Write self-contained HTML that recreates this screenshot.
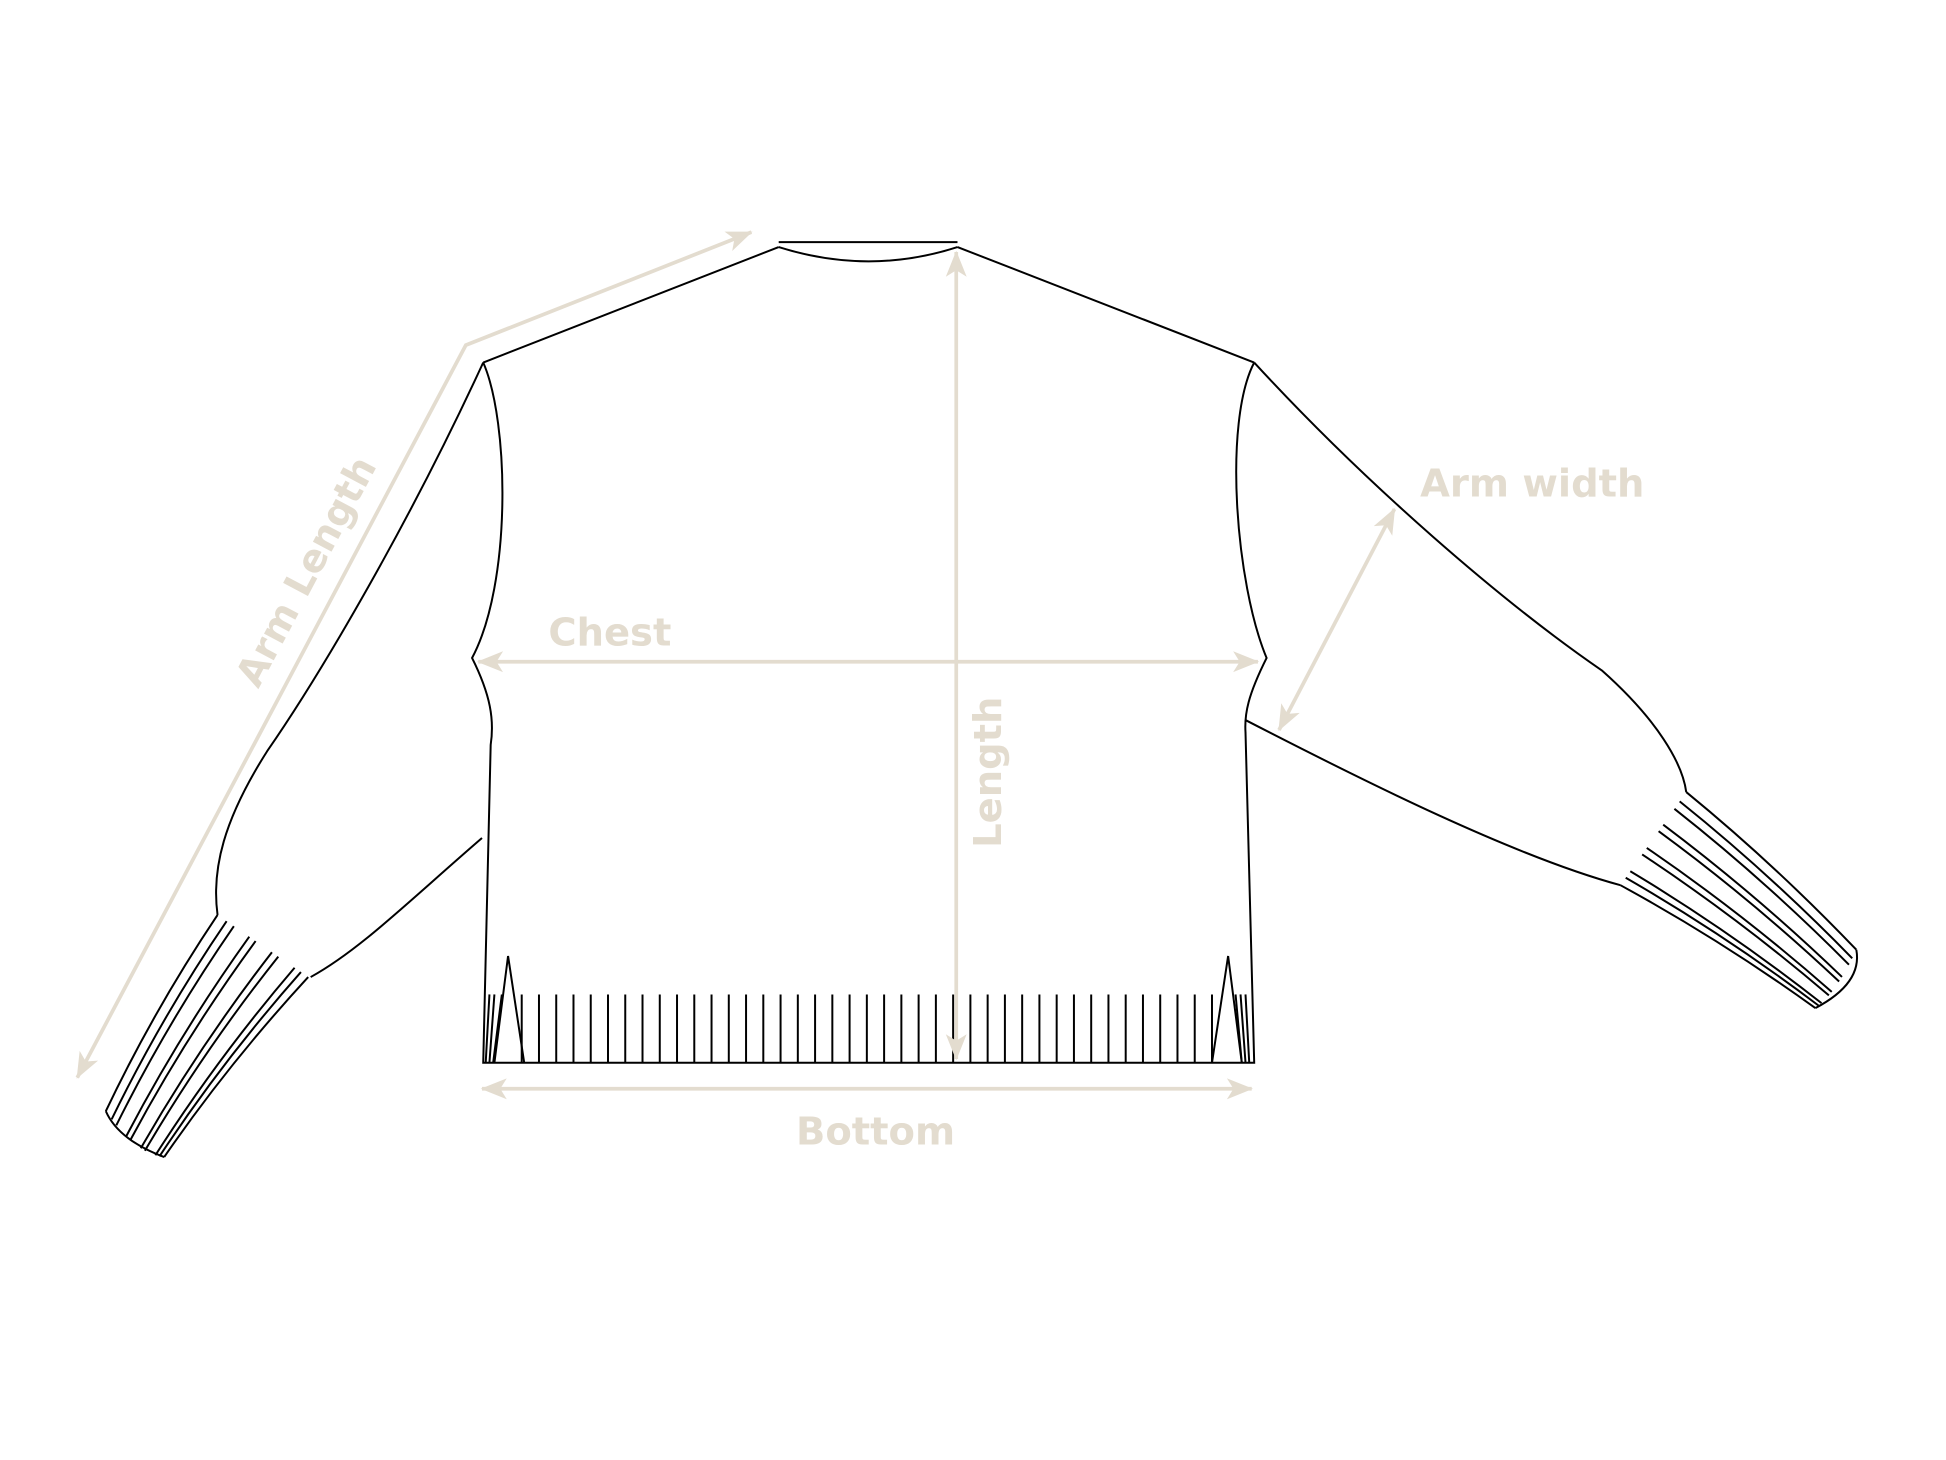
<!DOCTYPE html>
<html><head><meta charset="utf-8"><style>
html,body{margin:0;padding:0;background:#fff;}
svg{display:block;}
text{font-family:"DejaVu Sans","Liberation Sans",sans-serif;font-weight:bold;fill:#e3dccf;}
</style></head><body>
<svg id="s" width="1946" height="1460" viewBox="0 0 1567 1176" xmlns="http://www.w3.org/2000/svg">
<defs>
<marker id="ah" viewBox="0 0 20 16" refX="19" refY="8" markerWidth="7" markerHeight="6" orient="auto-start-reverse" markerUnits="strokeWidth">
<path d="M0,0 L20,8 L0,16 L5,8 Z" fill="#e3dccf"/>
</marker>
</defs>
<g fill="none" stroke="#000" stroke-width="1.6" id="body">
<path d="M627,195 L771,195"/>
<path d="M627,199 Q700,222 771,199"/>
<path d="M627,199 L389,292"/>
<path d="M771,199 L1010,292"/>
<path d="M389,292 C410,340 412,470 380,530 C395,560 398,580 395,600 L389,856 L1010,856 L1003,590 C1002,575 1005,560 1020,530 C995,470 985,340 1010,292"/>
<path d="M389,292 C330,420 260,540 215,605 C180,660 170,700 175,737"/>
<path d="M388,675 C330,725 290,765 250,787"/>
<path d="M1010,292 C1100,390 1210,485 1290,540 C1335,580 1355,615 1358,638"/>
<path d="M1003,580 C1100,630 1220,690 1305,713"/>
<path d="M85,895 Q95,918 132,932"/>
<path d="M1495,765 Q1500,792 1462,812"/>
<path d="M409,770 L398,856 M409,770 L422,856 M989,770 L976,856 M989,770 L1000,856"/>
<path d="M394,801 L391,856 M398,801 L394,856 M404,801 L397,856 M1003,801 L1006,856 M999,801 L1003,856 M995,801 L1000,856"/>
</g>
<g fill="none" stroke="#e3dccf" stroke-width="3">
<path d="M62,868 L375,278 L605,187" marker-start="url(#ah)" marker-end="url(#ah)"/>
<line x1="1030" y1="588" x2="1123" y2="410" marker-start="url(#ah)" marker-end="url(#ah)"/>
<line x1="385" y1="533" x2="1013" y2="533" marker-start="url(#ah)" marker-end="url(#ah)"/>
<line x1="770" y1="203" x2="770" y2="853" marker-start="url(#ah)" marker-end="url(#ah)"/>
<line x1="388" y1="877" x2="1008" y2="877" marker-start="url(#ah)" marker-end="url(#ah)"/>
</g>
<text x="246" y="471" font-size="31" text-anchor="middle" transform="rotate(-62 246 460)">Arm Length</text>
<text x="1234" y="400" font-size="31" text-anchor="middle">Arm width</text>
<text x="491" y="520" font-size="31" text-anchor="middle">Chest</text>
<text x="795" y="633" font-size="31" text-anchor="middle" transform="rotate(-90 795 622)">Length</text>
<text x="705" y="922" font-size="31" text-anchor="middle">Bottom</text>
</svg>
<script>
var g=document.getElementById('body'),ns='http://www.w3.org/2000/svg',d='';
for(var x=420;x<=976;x+=13.9){d+='M'+x.toFixed(1)+',801 L'+x.toFixed(1)+',856 ';}
var ts=[0,0.1,0.18,0.35,0.42,0.6,0.67,0.85,0.92,1];
ts.forEach(function(t){
 var tx=175+73*t,ty=737+50*t,bx=85+47*t,by=895+37*t+8*4*t*(1-t);
 var cx=(tx+bx)/2-6,cy=(ty+by)/2-3;
 d+='M'+tx+','+ty+' Q'+cx+','+cy+' '+bx+','+by+' ';
 var rx=1358-53*t,ry=638+75*t,qx=1495-33*t,qy=765+47*t+6*4*t*(1-t);
 var rcx=(rx+qx)/2+3,rcy=(ry+qy)/2-5;
 d+='M'+rx+','+ry+' Q'+rcx+','+rcy+' '+qx+','+qy+' ';
});
var p=document.createElementNS(ns,'path');p.setAttribute('d',d);g.appendChild(p);
</script>
</body></html>
